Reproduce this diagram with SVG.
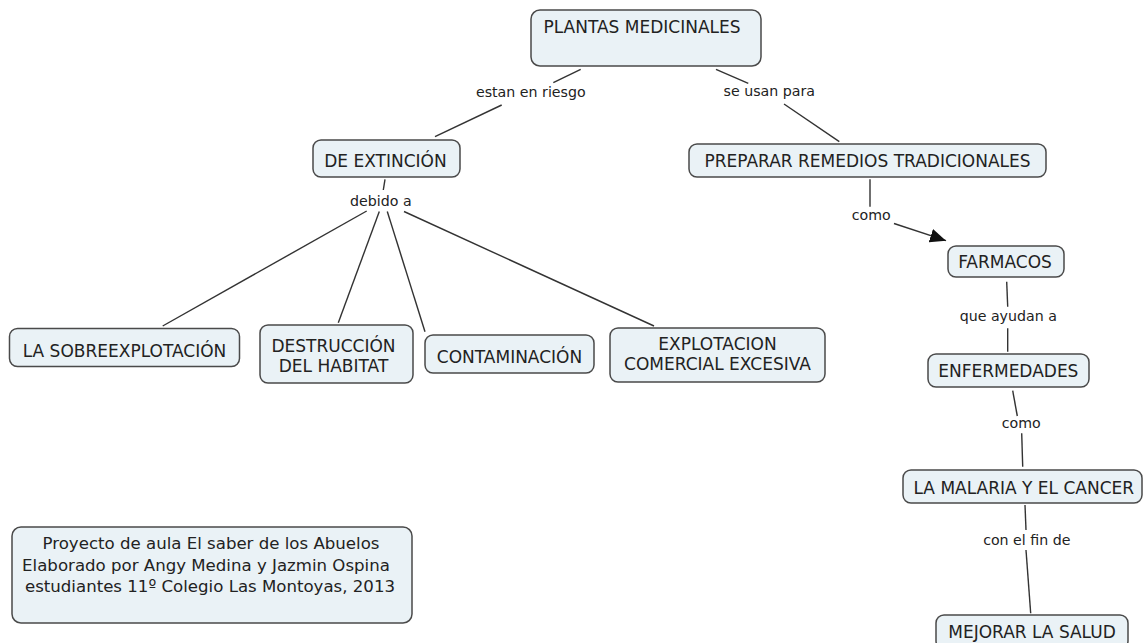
<svg xmlns="http://www.w3.org/2000/svg" width="1144" height="643" viewBox="0 0 1144 643">
<style>
.node rect{fill:#eaf2f6;stroke:#4a4a4a;stroke-width:1.5}
.node text{font-family:"DejaVu Sans",Verdana,sans-serif;font-size:17px;fill:#222;text-anchor:middle}
.lbl{font-family:"DejaVu Sans",Verdana,sans-serif;font-size:14.2px;fill:#222;text-anchor:middle}
#connectors line{stroke:#333;stroke-width:1.4}
</style>
<defs>
<marker id="arr" markerUnits="userSpaceOnUse" markerWidth="18" markerHeight="14" refX="16" refY="7" orient="auto">
<path d="M0,0 L16,7 L0,14 Z" fill="#111"/>
</marker>
</defs>
<rect width="1144" height="643" fill="#fff"/>
<g id="connectors">
<line x1="580.7" y1="69.3" x2="553.3" y2="82.7"/>
<line x1="501.7" y1="105" x2="435" y2="136.7"/>
<line x1="716" y1="69.3" x2="748.3" y2="83.3"/>
<line x1="784" y1="104" x2="839.3" y2="141.7"/>
<line x1="385" y1="179.3" x2="383.3" y2="190"/>
<line x1="366.7" y1="211" x2="162.7" y2="326"/>
<line x1="379.3" y1="211.5" x2="338.3" y2="322.7"/>
<line x1="387.3" y1="211.5" x2="425" y2="331.7"/>
<line x1="404" y1="211.5" x2="654" y2="326"/>
<line x1="870" y1="179.3" x2="870" y2="206.7"/>
<line x1="894" y1="223.5" x2="946" y2="240.7" marker-end="url(#arr)"/>
<line x1="1006.7" y1="281.7" x2="1007.7" y2="306.7"/>
<line x1="1007.7" y1="328.3" x2="1007.7" y2="351.7"/>
<line x1="1012.7" y1="390.7" x2="1017.3" y2="416"/>
<line x1="1021.7" y1="433.3" x2="1022.7" y2="466.7"/>
<line x1="1025" y1="505" x2="1026" y2="530"/>
<line x1="1026" y1="550" x2="1030.7" y2="613.3"/>
<text class="lbl" x="530.8" y="96.7">estan en riesgo</text>
<text class="lbl" x="769.3" y="96">se usan para</text>
<text class="lbl" x="380.8" y="206">debido a</text>
<text class="lbl" x="871.2" y="220">como</text>
<text class="lbl" x="1008.3" y="320.7">que ayudan a</text>
<text class="lbl" x="1021.3" y="428.3">como</text>
<text class="lbl" x="1026.8" y="545">con el fin de</text>
</g>
<g id="n-plantas" class="node"><rect x="531" y="10" width="230" height="56" rx="9"/><text x="642" y="33">PLANTAS MEDICINALES</text></g>
<g id="n-extincion" class="node"><rect x="313" y="140" width="147" height="37" rx="8"/><text x="385.5" y="167">DE EXTINCIÓN</text></g>
<g id="n-preparar" class="node"><rect x="689" y="144" width="357" height="33" rx="8"/><text x="867.5" y="167">PREPARAR REMEDIOS TRADICIONALES</text></g>
<g id="n-farmacos" class="node"><rect x="948" y="246" width="116" height="31" rx="8"/><text x="1005" y="268">FARMACOS</text></g>
<g id="n-enfermedades" class="node"><rect x="928" y="354" width="161" height="33" rx="8"/><text x="1008.3" y="377">ENFERMEDADES</text></g>
<g id="n-malaria" class="node"><rect x="903" y="470" width="239" height="33" rx="8"/><text x="1023.8" y="493.5">LA MALARIA Y EL CANCER</text></g>
<g id="n-mejorar" class="node"><rect x="936" y="615" width="192" height="34" rx="8"/><text x="1032" y="638.3">MEJORAR LA SALUD</text></g>
<g id="n-sobre" class="node"><rect x="9.5" y="328.5" width="230" height="38" rx="8"/><text x="124.5" y="357">LA SOBREEXPLOTACIÓN</text></g>
<g id="n-destruccion" class="node"><rect x="260" y="325" width="153" height="58" rx="8"/><text x="333.5" y="351.7">DESTRUCCIÓN</text><text x="333.5" y="371.7">DEL HABITAT</text></g>
<g id="n-contaminacion" class="node"><rect x="425" y="335" width="169" height="38" rx="8"/><text x="509.5" y="363">CONTAMINACIÓN</text></g>
<g id="n-explotacion" class="node"><rect x="610" y="328" width="215" height="54" rx="8"/><text x="717.5" y="350">EXPLOTACION</text><text x="717.5" y="370">COMERCIAL EXCESIVA</text></g>
<g id="n-nota" class="node"><rect x="12" y="527" width="400" height="96" rx="9"/><text x="211" y="549" style="font-size:16.6px">Proyecto de aula El saber de los Abuelos</text><text x="206" y="570.5" style="font-size:16.6px">Elaborado por Angy Medina y Jazmin Ospina</text><text x="210" y="591.5" style="font-size:16.6px">estudiantes 11º Colegio Las Montoyas, 2013</text></g>
</svg>
